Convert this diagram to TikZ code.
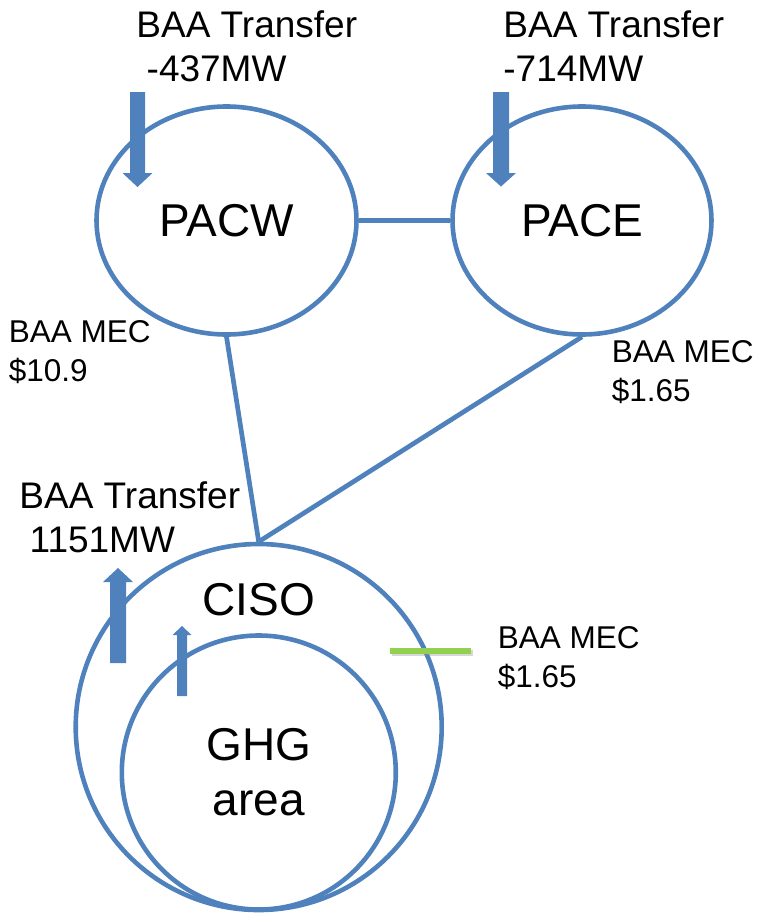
\documentclass[tikz,border=0pt]{standalone}
\usepackage{fontspec}
\setmainfont{Liberation Sans}
\usetikzlibrary{shapes.geometric}
\definecolor{lineblue}{HTML}{4F81BD}
\definecolor{mecgreen}{HTML}{92D050}
\tikzset{
  area/.style={draw=lineblue, line width=4.6pt, fill=none, inner sep=0pt},
  bigtext/.style={font=\fontsize{46}{55}\selectfont, align=center},
  link/.style={draw=lineblue, line width=4.7pt},
  flowfill/.style={fill=lineblue},
  transfertext/.style={anchor=north west, inner sep=0pt, align=left, font=\fontsize{37}{43.5}\selectfont},
  mectext/.style={anchor=north west, inner sep=0pt, align=left, font=\fontsize{31.5}{38.5}\selectfont},
}
\begin{document}
\begin{tikzpicture}[x=1pt,y=-1pt]
\useasboundingbox (0,0) rectangle (758,914);

% regions
\node[area, ellipse, minimum width=260pt, minimum height=228pt, bigtext] (pacw) at (226.5,220.5) {PACW};
\node[area, ellipse, minimum width=259pt, minimum height=228pt, bigtext] (pace) at (582,220.5) {PACE};
\node[area, circle, minimum size=366pt] (ciso) at (258.7,727) {};
\node[area, circle, minimum size=274pt, bigtext] (ghg) at (258.8,772.5) {GHG\\area};
\node[bigtext, inner sep=0pt] (cisolabel) at (259,599.5) {CISO};

% links
\draw[link] (pacw) -- (pace);
\draw[link] (pacw.south) -- (ciso.north);
\draw[link] (pace.south) -- (ciso.north);

% transfer arrows
\fill[flowfill] (130,92) -- (145,92) -- (145,173) -- (152.5,173) -- (137.5,187) -- (122.5,173) -- (130,173) -- cycle;
\fill[flowfill] (493,92) -- (509,92) -- (509,173) -- (516,173) -- (501,186.5) -- (486,173) -- (493,173) -- cycle;
\fill[flowfill] (110,663) -- (126,663) -- (126,582) -- (133,582) -- (118,568) -- (103,582) -- (110,582) -- cycle;
\fill[flowfill] (177,696) -- (187,696) -- (187,635) -- (191.5,635) -- (182,626) -- (172.5,635) -- (177,635) -- cycle;

% green MEC marker with faint shadow
\coordinate (gl) at (390,651);
\coordinate (gr) at (471,651);
\draw[black!45, opacity=0.35, line width=5.5pt] ([xshift=1.5pt,yshift=-1.8pt]gl) -- ([xshift=1.5pt,yshift=-1.8pt]gr);
\draw[mecgreen, line width=5.5pt] (gl) -- (gr);

% labels
\node[transfertext] (tpacw) at (136.2,11) {BAA Transfer\\\hspace*{0.278em}-437MW};
\node[transfertext] (tpace) at (503.2,11) {BAA Transfer\\-714MW};
\node[transfertext] (tciso) at (19.2,482) {BAA Transfer\\\hspace*{0.278em}1151MW};
\node[mectext] (mpacw) at (8.7,320.3) {BAA MEC\\\$10.9};
\node[mectext] (mpace) at (611.7,340.3) {BAA MEC\\\$1.65};
\node[mectext] (mghg) at (497.7,626.3) {BAA MEC\\\$1.65};
\end{tikzpicture}
\end{document}
